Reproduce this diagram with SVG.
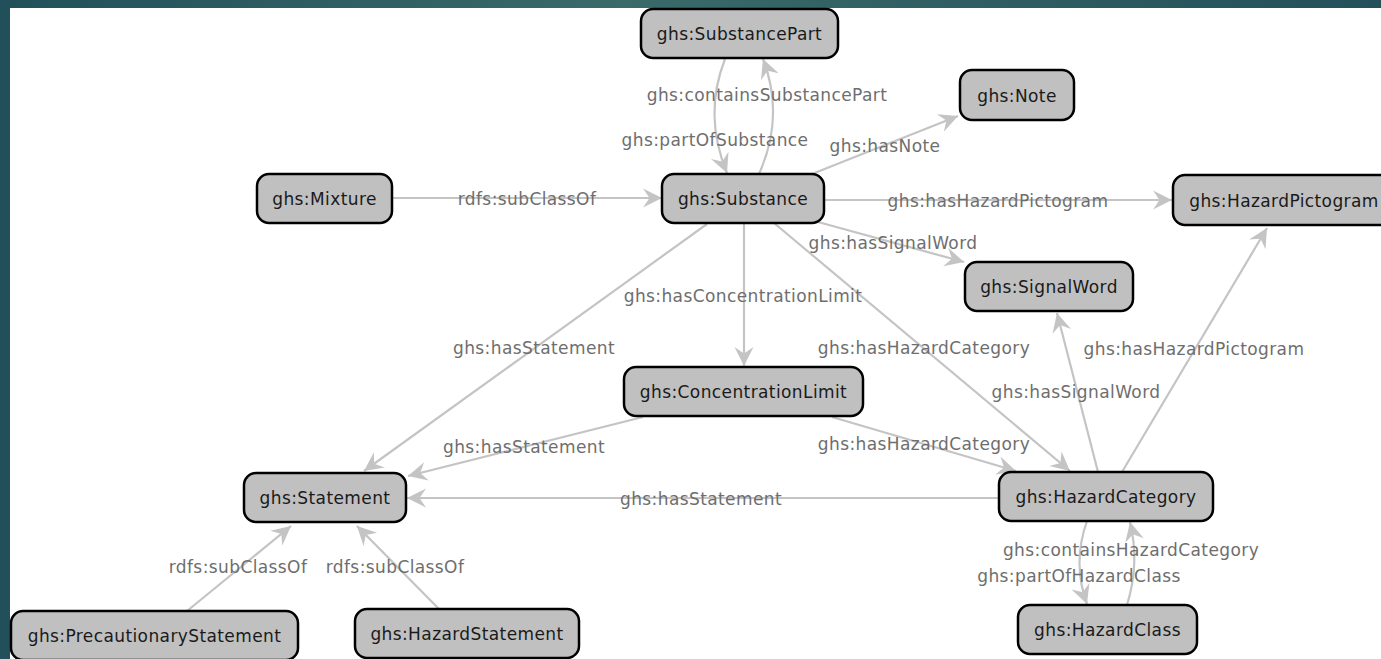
<svg xmlns="http://www.w3.org/2000/svg" width="1381" height="659" viewBox="0 0 1381 659">
<defs>
<linearGradient id="bg" x1="0" y1="0" x2="1" y2="0">
<stop offset="0" stop-color="#22505a"/>
<stop offset="0.45" stop-color="#3a6a6a"/>
<stop offset="1" stop-color="#23505a"/>
</linearGradient>
<marker id="arr" markerUnits="userSpaceOnUse" viewBox="-20 -11 22 22" refX="0" refY="0" markerWidth="22" markerHeight="22" orient="auto">
<path d="M0,0 L-19,-9.5 L-12.5,0 L-19,9.5 Z" fill="#c4c4c4"/>
</marker>
</defs>
<style>
.n rect{fill:#c0c0c0;stroke:#000;stroke-width:2.5}
.n text{font-family:"DejaVu Sans",Verdana,sans-serif;font-size:17px;letter-spacing:0.4px;fill:#1a1a1a;text-anchor:middle}
#edges path{fill:none;stroke:#c4c4c4;stroke-width:2.2;marker-end:url(#arr)}
#edges text{font-family:"DejaVu Sans",Verdana,sans-serif;font-size:17px;letter-spacing:0.4px;fill:#6e6e6e;text-anchor:middle}
</style>
<rect x="0" y="0" width="1381" height="659" fill="url(#bg)"/>
<rect x="10" y="8" width="1371" height="651" fill="#ffffff"/>

<g id="edges">
<path d="M392,198 L662,198"/>
<path d="M759,174 Q785,116 763,59"/>
<path d="M725,59 Q703,115 727,173"/>
<path d="M812,174 L958,116"/>
<path d="M824,200 L1172,200"/>
<path d="M818,222 L964,262"/>
<path d="M744,223 L744,366"/>
<path d="M707,224 L364,471"/>
<path d="M774,223 L1070,471"/>
<path d="M643,417 L408,476"/>
<path d="M832,417 L1016,471"/>
<path d="M999,498 L407,498"/>
<path d="M1098,472 L1057,313"/>
<path d="M1122,472 L1267,228"/>
<path d="M1087,521 Q1072,563 1087,604"/>
<path d="M1127,605 Q1140,563 1130,522"/>
<path d="M187,611 L291,526"/>
<path d="M439,609 L357,526"/>
<text x="527" y="205">rdfs:subClassOf</text>
<text x="767" y="101">ghs:containsSubstancePart</text>
<text x="715" y="146">ghs:partOfSubstance</text>
<text x="885" y="152">ghs:hasNote</text>
<text x="998" y="207">ghs:hasHazardPictogram</text>
<text x="893" y="249">ghs:hasSignalWord</text>
<text x="743" y="302">ghs:hasConcentrationLimit</text>
<text x="534" y="354">ghs:hasStatement</text>
<text x="924" y="354">ghs:hasHazardCategory</text>
<text x="524" y="453">ghs:hasStatement</text>
<text x="924" y="450">ghs:hasHazardCategory</text>
<text x="701" y="505">ghs:hasStatement</text>
<text x="1076" y="398">ghs:hasSignalWord</text>
<text x="1194" y="355">ghs:hasHazardPictogram</text>
<text x="1131" y="556">ghs:containsHazardCategory</text>
<text x="1079" y="582">ghs:partOfHazardClass</text>
<text x="238" y="573">rdfs:subClassOf</text>
<text x="395" y="573">rdfs:subClassOf</text>
</g>

<g id="SubstancePart" class="n"><rect x="641" y="9" width="197" height="49" rx="12"/><text x="739.5" y="40">ghs:SubstancePart</text></g>
<g id="Note" class="n"><rect x="960" y="70" width="114" height="50" rx="12"/><text x="1017" y="101.5">ghs:Note</text></g>
<g id="Mixture" class="n"><rect x="257" y="174" width="135" height="49" rx="12"/><text x="324.5" y="205">ghs:Mixture</text></g>
<g id="Substance" class="n"><rect x="662" y="174" width="162" height="49" rx="12"/><text x="743" y="205">ghs:Substance</text></g>
<g id="HazardPictogram" class="n"><rect x="1173" y="175" width="225" height="50" rx="12"/><text x="1284" y="206.5">ghs:HazardPictogram</text></g>
<g id="SignalWord" class="n"><rect x="965" y="262" width="168" height="49" rx="12"/><text x="1049" y="293">ghs:SignalWord</text></g>
<g id="ConcentrationLimit" class="n"><rect x="624" y="367" width="239" height="49" rx="12"/><text x="743.5" y="398">ghs:ConcentrationLimit</text></g>
<g id="Statement" class="n"><rect x="244" y="473" width="162" height="49" rx="12"/><text x="325" y="504">ghs:Statement</text></g>
<g id="HazardCategory" class="n"><rect x="999" y="472" width="214" height="49" rx="12"/><text x="1106" y="503">ghs:HazardCategory</text></g>
<g id="PrecautionaryStatement" class="n"><rect x="11" y="611" width="287" height="49" rx="12"/><text x="154.5" y="642">ghs:PrecautionaryStatement</text></g>
<g id="HazardStatement" class="n"><rect x="355" y="609" width="224" height="49" rx="12"/><text x="467" y="640">ghs:HazardStatement</text></g>
<g id="HazardClass" class="n"><rect x="1018" y="605" width="179" height="49" rx="12"/><text x="1107.5" y="636">ghs:HazardClass</text></g>
</svg>
